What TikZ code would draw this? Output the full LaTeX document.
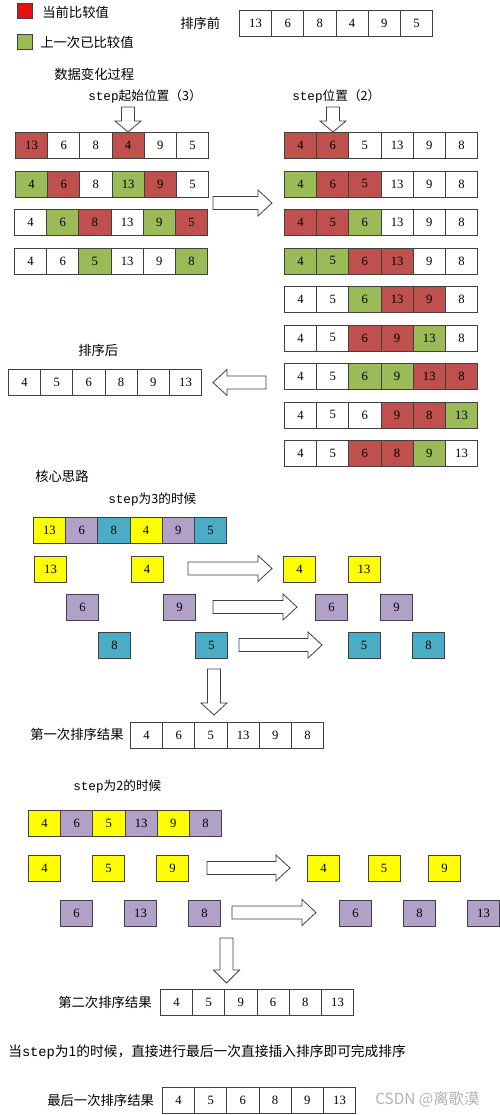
\documentclass[tikz,border=0pt]{standalone}
\usepackage{fontspec}
\setmainfont{Noto Sans CJK SC}
\newfontfamily\numfont{Liberation Serif}
\newfontfamily\stepfont{Liberation Mono}
\definecolor{cR}{HTML}{C0504D}
\definecolor{cG}{HTML}{9BBB59}
\definecolor{cY}{HTML}{FFFF00}
\definecolor{cP}{HTML}{B1A0C7}
\definecolor{cT}{HTML}{4BACC6}
\definecolor{cL}{HTML}{E51010}
\definecolor{cE}{HTML}{404040}
\tikzset{
  cell/.style={draw=cE, line width=0.6pt, minimum width=24.15pt, minimum height=19.5pt,
    inner sep=0pt, anchor=north west, font=\numfont\fontsize{9.5}{10}\selectfont},
  lbl/.style={anchor=west, inner sep=0pt, font=\fontsize{10}{12}\selectfont},
  slbl/.style={anchor=west, inner sep=0pt, font=\fontsize{9.5}{11}\selectfont},
  fatarrow/.style={draw=cE, line width=0.6pt, fill=white, line join=miter},
  legendbox/.style={draw=cE, line width=0.5pt, minimum width=11pt, minimum height=11pt, inner sep=0pt, anchor=north west}
}
\newcommand{\arr}[4]{\foreach \v/\c [count=\i] in {#4}{\node[cell, fill=\c] (#1-\i) at ({#2+(\i-1)*32.2},#3) {\v};}}
\newcommand{\rarr}[3]{\draw[fatarrow] (#1,{#3-6.5}) -- ({#2-14},{#3-6.5}) -- ({#2-14},{#3-13}) -- (#2,#3) -- ({#2-14},{#3+13}) -- ({#2-14},{#3+6.5}) -- (#1,{#3+6.5}) -- cycle;}
\newcommand{\larr}[3]{\draw[fatarrow] (#1,#3) -- ({#1+14},{#3-13}) -- ({#1+14},{#3-6.5}) -- (#2,{#3-6.5}) -- (#2,{#3+6.5}) -- ({#1+14},{#3+6.5}) -- ({#1+14},{#3+13}) -- cycle;}
\newcommand{\darr}[4]{\draw[fatarrow] ({#1-6.5},#2) -- ({#1+6.5},#2) -- ({#1+6.5},{#3-#4}) -- ({#1+13},{#3-#4}) -- (#1,#3) -- ({#1-13},{#3-#4}) -- ({#1-6.5},{#3-#4}) -- cycle;}
\begin{document}
\begin{tikzpicture}[x=0.75pt,y=-0.75pt]
\useasboundingbox (0,0) rectangle (500,1115);
\fill[white] (0,0) rectangle (500,1115);
% legend
\node[legendbox, fill=cL] (lg1) at (17,3) {};
\node[lbl] (lt1) at (42,12) {当前比较值};
\node[legendbox, fill=cG] (lg2) at (17,34) {};
\node[lbl] (lt2) at (40,42) {上一次已比较值};
% before
\node[lbl] (before) at (180,23) {排序前};
\arr{b}{239}{10}{13/white,6/white,8/white,4/white,9/white,5/white}
\node[lbl] (proc) at (54,74) {数据变化过程};
\node[slbl] (st3) at (88,96) {{\stepfont step}起始位置（3）};
\node[slbl] (st2) at (292,96) {{\stepfont step}位置（2）};
\darr{128}{107}{132}{11}
\darr{333}{107}{132}{11}
% left rows
\arr{l1}{15}{132}{13/cR,6/white,8/white,4/cR,9/white,5/white}
\arr{l2}{15}{171}{4/cG,6/cR,8/white,13/cG,9/cR,5/white}
\arr{l3}{14}{209}{4/white,6/cG,8/cR,13/white,9/cG,5/cR}
\arr{l4}{14}{248}{4/white,6/white,5/cG,13/white,9/white,8/cG}
\rarr{213}{272}{203}
% right rows
\arr{r1}{284}{132}{4/cR,6/cR,5/white,13/white,9/white,8/white}
\arr{r2}{284}{170.5}{4/cG,6/cR,5/cR,13/white,9/white,8/white}
\arr{r3}{284}{209}{4/cR,5/cR,6/cG,13/white,9/white,8/white}
\arr{r4}{284}{247.5}{4/cG,5/cG,6/cR,13/cR,9/white,8/white}
\arr{r5}{284}{286}{4/white,5/white,6/cG,13/cR,9/cR,8/white}
\arr{r6}{284}{324.5}{4/white,5/white,6/cR,9/cR,13/cG,8/white}
\arr{r7}{284}{363}{4/white,5/white,6/cG,9/cG,13/cR,8/cR}
\arr{r8}{284}{401.5}{4/white,5/white,6/white,9/cR,8/cR,13/cG}
\arr{r9}{284}{440}{4/white,5/white,6/cR,8/cR,9/cG,13/white}
% sorted
\node[lbl] (after) at (78,350) {排序后};
\arr{s}{8}{369}{4/white,5/white,6/white,8/white,9/white,13/white}
\larr{213}{266}{382.5}
% core idea
\node[lbl] (core) at (35,476) {核心思路};
\node[slbl] (s3) at (108,499) {{\stepfont step}为3的时候};
\arr{c}{33}{517}{13/cY,6/cP,8/cT,4/cY,9/cP,5/cT}
\node[cell, fill=cY] (y1) at (34,556) {13};
\node[cell, fill=cY] (y2) at (130.5,556) {4};
\rarr{188}{272}{568.5}
\node[cell, fill=cY] (y3) at (283,556) {4};
\node[cell, fill=cY] (y4) at (347.5,556) {13};
\node[cell, fill=cP] (p1) at (66,594) {6};
\node[cell, fill=cP] (p2) at (163,594) {9};
\rarr{213}{297}{607}
\node[cell, fill=cP] (p3) at (315,594) {6};
\node[cell, fill=cP] (p4) at (380,594) {9};
\node[cell, fill=cT] (t1) at (98,632) {8};
\node[cell, fill=cT] (t2) at (195,632) {5};
\rarr{239}{322}{645}
\node[cell, fill=cT] (t3) at (347.5,632) {5};
\node[cell, fill=cT] (t4) at (412,632) {8};
\darr{214}{669}{715}{12}
\node[lbl] (first) at (30,734) {第一次排序结果};
\arr{f}{130}{722}{4/white,6/white,5/white,13/white,9/white,8/white}
% step 2
\node[slbl] (s2) at (73,786) {{\stepfont step}为2的时候};
\arr{d}{28}{810}{4/cY,6/cP,5/cY,13/cP,9/cY,8/cP}
\node[cell, fill=cY] (yy1) at (28,855) {4};
\node[cell, fill=cY] (yy2) at (92,855) {5};
\node[cell, fill=cY] (yy3) at (156,855) {9};
\rarr{207}{290}{868}
\node[cell, fill=cY] (yy4) at (307,855) {4};
\node[cell, fill=cY] (yy5) at (367.5,855) {5};
\node[cell, fill=cY] (yy6) at (428,855) {9};
\node[cell, fill=cP] (pp1) at (60,899.5) {6};
\node[cell, fill=cP] (pp2) at (124,899.5) {13};
\node[cell, fill=cP] (pp3) at (188,899.5) {8};
\rarr{232}{316}{912.5}
\node[cell, fill=cP] (pp4) at (339,899.5) {6};
\node[cell, fill=cP] (pp5) at (403,899.5) {8};
\node[cell, fill=cP] (pp6) at (467,899.5) {13};
\darr{226.5}{938}{983}{13}
\node[lbl] (second) at (58,1002) {第二次排序结果};
\arr{g}{160}{989}{4/white,5/white,9/white,6/white,8/white,13/white}
\node[lbl, font=\fontsize{10.3}{12}\selectfont] (step1) at (8,1052) {当{\stepfont step}为1的时候，直接进行最后一次直接插入排序即可完成排序};
\node[lbl] (last) at (47,1100) {最后一次排序结果};
\arr{h}{162}{1087}{4/white,5/white,6/white,8/white,9/white,13/white}
\node[anchor=west, inner sep=0pt, text=black!30, font=\fontsize{11.5}{13}\selectfont] (wm) at (375,1099) {CSDN @离歌漠};
\end{tikzpicture}
\end{document}
